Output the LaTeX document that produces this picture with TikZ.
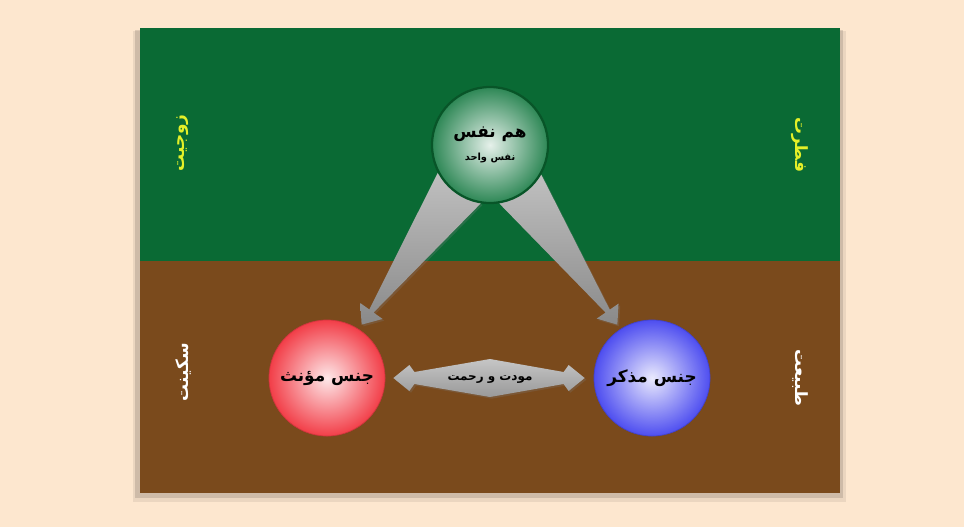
\documentclass[tikz,border=0pt]{standalone}
\usepackage{fontspec}
\newfontfamily\arabicfont[Script=Arabic]{DejaVu Sans}
\TeXXeTstate=1
\usetikzlibrary{calc,shadows}
\pgfdeclarelayer{background}
\pgfsetlayers{background,main}
\newcommand{\matnR}[1]{\beginR#1\endR}
\definecolor{peach}{RGB}{253,231,207}
\definecolor{fitrat}{RGB}{10,106,52}
\definecolor{tabiat}{RGB}{122,74,28}
\definecolor{zard}{RGB}{228,240,40}
\definecolor{nafsgreen}{RGB}{45,135,85}
\definecolor{nafsedge}{RGB}{8,85,40}
\definecolor{moannathred}{RGB}{242,62,72}
\definecolor{mozakkarblue}{RGB}{78,78,240}
\tikzset{
	ball/.style={circle, minimum size=2.9cm, inner sep=0pt, align=center,
		inner color=#1!12, outer color=#1, draw=#1!85!black, line width=.5pt},
	kalameh/.style={font=\arabicfont\bfseries\fontsize{12}{14}\selectfont, text=black},
	kenar/.style={font=\arabicfont\bfseries\fontsize{12}{14}\selectfont},
	peykan/.style={top color=gray!50, bottom color=gray!92,
		drop shadow={shadow xshift=1.2pt, shadow yshift=-1.2pt, opacity=.25}},
}
\begin{document}
\begin{tikzpicture}[x=0.025cm,y=-0.025cm]
	\useasboundingbox (0,0) rectangle (964,527);
	\begin{pgfonlayer}{background}
	\fill[peach] (0,0) rectangle (964,527);
	\fill[black,opacity=.07] (133,31) rectangle (846,502);
	\fill[black,opacity=.12] (135,30) rectangle (843,498);
	\fill[fitrat] (140,28) rectangle (840,261);
	\fill[tabiat] (140,261) rectangle (840,493);
	\end{pgfonlayer}

	\node[ball=nafsgreen, draw=nafsedge, line width=1.6pt, kalameh] (hamnafs) at (490,145)
		{\matnR{هم نفس}\\[2pt]{\fontsize{7}{9}\selectfont\matnR{نفس واحد}}};
	\node[ball=moannathred, kalameh] (moannath) at (327,378) {\matnR{جنس مؤنث}};
	\node[ball=mozakkarblue, kalameh] (mozakkar) at (652,378) {\matnR{جنس مذکر}};
	\node[kalameh, font=\arabicfont\bfseries\fontsize{8.5}{10}\selectfont] (mavaddat) at (490,379) {\matnR{مودت و رحمت}};

	\node[kenar, text=zard, rotate=90] (zowjiyat) at (183,143) {\matnR{زوجیت}};
	\node[kenar, text=zard, rotate=-90] (fetrat) at (800,145) {\matnR{فطرت}};
	\node[kenar, text=white, rotate=90] (sakinat) at (183,372) {\matnR{سکینت}};
	\node[kenar, text=white, rotate=-90] (tabiat) at (800,378) {\matnR{طبیعت}};

	\begin{pgfonlayer}{background}
	% hamnafs -> moannath
	\path (hamnafs.208) coordinate (a1) (hamnafs.261) coordinate (a2)
		($(moannath.center)!1.09!(moannath.57)$) coordinate (a3);
	\path ($(a1)!.9!(a3)$) coordinate (a4) ($(a2)!.9!(a3)$) coordinate (a5);
	\path[peykan] (a1) -- (a4) -- ($(a5)!3.1!(a4)$) -- (a3) -- ($(a4)!3.1!(a5)$) -- (a5) -- (a2) -- cycle;
	% hamnafs -> mozakkar
	\path (hamnafs.279) coordinate (b1) (hamnafs.330) coordinate (b2)
		($(mozakkar.center)!1.09!(mozakkar.123)$) coordinate (b3);
	\path ($(b1)!.9!(b3)$) coordinate (b4) ($(b2)!.9!(b3)$) coordinate (b5);
	\path[peykan] (b1) -- (b4) -- ($(b5)!3.1!(b4)$) -- (b3) -- ($(b4)!3.1!(b5)$) -- (b5) -- (b2) -- cycle;
	% moannath <-> mozakkar
	\path ($(moannath.east)+(8,0)$) coordinate (c1) ($(mozakkar.west)+(-9,0)$) coordinate (c2);
	\path[peykan, top color=gray!45, bottom color=gray!80] (c1) -- ++(16,-13) -- ++(5,7) -- ($(mavaddat.center)+(0,-20)$)
		-- ($(c2)+(-21,-6)$) -- ($(c2)+(-16,-13)$) -- (c2) -- ($(c2)+(-16,13)$)
		-- ($(c2)+(-21,6)$) -- ($(mavaddat.center)+(0,18)$) -- ($(c1)+(21,6)$)
		-- ($(c1)+(16,13)$) -- cycle;
	\end{pgfonlayer}
\end{tikzpicture}
\end{document}
